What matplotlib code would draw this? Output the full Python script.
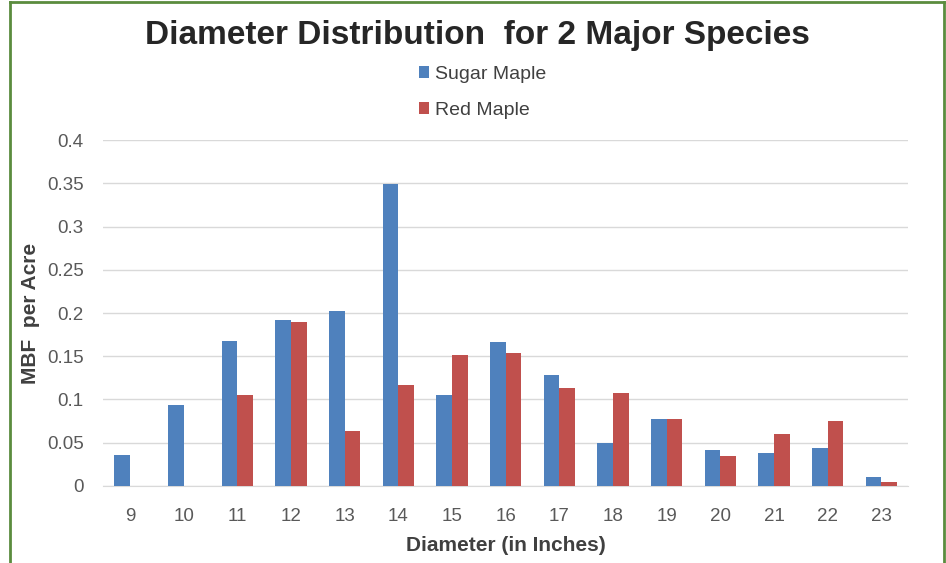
import numpy as np
import matplotlib
matplotlib.use('Agg')
from matplotlib import pyplot as plt
from matplotlib.lines import Line2D

plt.rcParams['font.family'] = ['Liberation Sans', 'DejaVu Sans']

diameters = ['9', '10', '11', '12', '13', '14', '15', '16', '17', '18', '19', '20', '21', '22', '23']
sugar_maple = [0.036, 0.093, 0.168, 0.192, 0.202, 0.349, 0.105, 0.166, 0.128, 0.050, 0.077, 0.042, 0.038, 0.044, 0.010]
red_maple = [0, 0, 0.105, 0.190, 0.063, 0.117, 0.152, 0.154, 0.113, 0.107, 0.077, 0.034, 0.060, 0.075, 0.005]
yticks = [0, 0.05, 0.1, 0.15, 0.2, 0.25, 0.3, 0.35, 0.4]
ylabels = ['0', '0.05', '0.1', '0.15', '0.2', '0.25', '0.3', '0.35', '0.4']

fig = plt.figure(figsize=(9.46, 5.63), dpi=100)
ax = fig.add_axes([0.109, 0.137, 0.851, 0.614])

x = np.arange(len(diameters))
w = 0.29
ax.bar(x - w/2, sugar_maple, w, color='#4F81BD', label='Sugar Maple', zorder=3)
ax.bar(x + w/2, red_maple, w, color='#C0504D', label='Red Maple', zorder=3)

ax.set_xlim(-0.5, len(diameters) - 0.5)
ax.set_ylim(0, 0.4)
ax.set_yticks(yticks)
ax.set_yticklabels(ylabels)
ax.set_xticks(x)
ax.set_xticklabels(diameters)
ax.tick_params(length=0, labelsize=13.5, colors='#595959')
ax.tick_params(axis='x', pad=16)
ax.tick_params(axis='y', pad=14)
ax.yaxis.grid(True, color='#D9D9D9', linewidth=1, zorder=0)
for s in ['top', 'right', 'left']:
    ax.spines[s].set_visible(False)
ax.spines['bottom'].set_color('#D9D9D9')

ax.set_xlabel('Diameter (in Inches)', fontsize=15, fontweight='bold', color='#404040', labelpad=8)
ax.set_ylabel('MBF  per Acre', fontsize=15, fontweight='bold', color='#404040', labelpad=0)
ax.yaxis.set_label_coords(-0.078, 0.5)

fig.text(0.505, 0.937, 'Diameter Distribution  for 2 Major Species', ha='center', va='center',
         fontsize=24, fontweight='bold', color='#262626')
fig.legend(loc='center', bbox_to_anchor=(0.51, 0.836), ncol=1, frameon=False, fontsize=14,
           handlelength=0.55, handleheight=0.55, handletextpad=0.3, labelspacing=0.95,
           labelcolor='#404040')

# green frame
g = '#5B8C3E'
fig.add_artist(Line2D([10/946, 10/946], [0, 1 - 2/563], transform=fig.transFigure, color=g, lw=2))
fig.add_artist(Line2D([10/946, 944/946], [1 - 2/563, 1 - 2/563], transform=fig.transFigure, color=g, lw=2))
fig.add_artist(Line2D([944/946, 944/946], [0, 1 - 2/563], transform=fig.transFigure, color=g, lw=2))

fig.savefig('out.png', dpi=100)
